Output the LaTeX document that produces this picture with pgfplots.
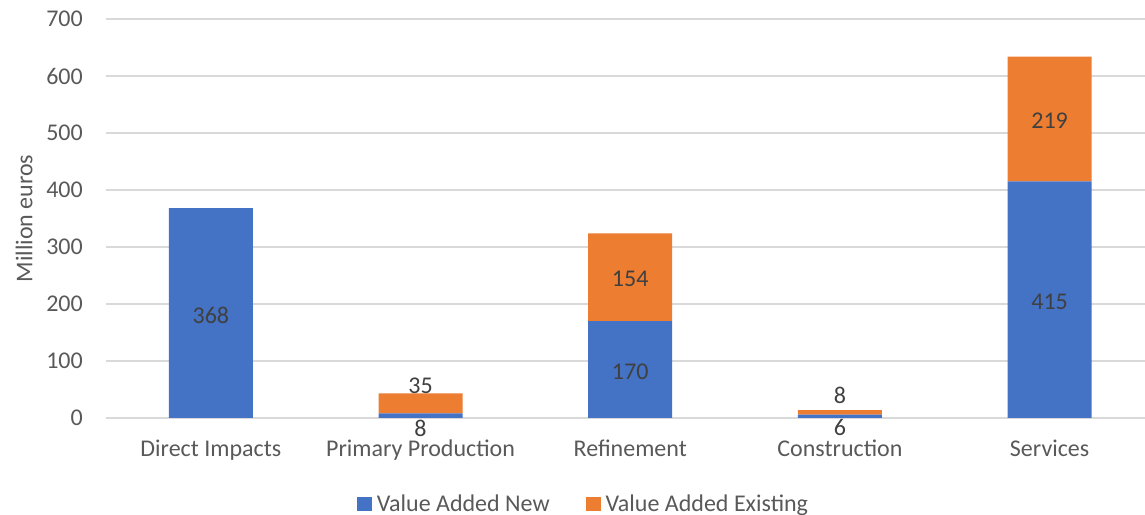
\documentclass[border=0pt]{standalone}
\usepackage{pgfplots}
\usepackage{pgfplotstable}
\pgfplotsset{compat=1.18}
\usepackage{fontspec}
\setmainfont{Carlito}

\definecolor{newblue}{HTML}{4472C4}
\definecolor{existorange}{HTML}{ED7D31}
\definecolor{gridgray}{HTML}{D9D9D9}
\definecolor{ticktext}{HTML}{595959}
\definecolor{labeltext}{HTML}{404040}
\newcommand\chartfont{\fontsize{24bp}{28bp}\selectfont}

% value added by sector, million euros
\pgfplotstableread{
x new existing
0 368 0
1 8   35
2 170 154
3 6   8
4 415 219
}\valuedata

% data label positions (y) and the values they print
\pgfplotstableread{
x ypos  val
0 180.5 368
1 -19   8
2 81.5  170
3 -16   6
4 204   415
}\newlabels
\pgfplotstableread{
x ypos  val
1 56    35
2 243.5 154
3 40    8
4 521   219
}\existinglabels

\pgfplotsset{
  chartframe/.style={
    at={(106bp,97bp)}, anchor=south west,
    scale only axis, width=1039bp, height=399bp,
    xmin=-0.5, xmax=4.4547, ymin=0, ymax=700,
  },
  valuelabel/.style={
    draw=none, nodes near coords, point meta=explicit symbolic,
    every node near coord/.append style={anchor=center, inner sep=0pt,
      font=\chartfont, text=labeltext},
  },
}

\begin{document}
\begin{tikzpicture}
\begin{axis}[
  chartframe,
  ybar stacked,
  bar width=84bp,
  axis line style={draw=none},
  major tick length=0pt,
  ymajorgrids,
  grid style={gridgray, line width=1.3bp},
  ytick={0,100,...,700},
  xtick={0,1,2,3,4},
  xticklabels={Direct Impacts, Primary Production, Refinement, Construction, Services},
  /pgf/number format/assume math mode=true,
  tick label style={font=\chartfont, text=ticktext},
  yticklabel style={anchor=east, inner sep=0pt, xshift=-23bp},
  xticklabel style={anchor=base, inner sep=0pt, yshift=-38.7bp},
  ylabel={Million euros},
  every axis y label/.style={at={(axis description cs:-0.0789,0.5)}, anchor=center, rotate=90, font=\chartfont, text=ticktext},
  legend columns=2,
  legend cell align=left,
  legend image code/.code={\fill[#1] (0bp,-7bp) rectangle (15bp,7bp);},
  legend style={
    at={(axis description cs:0.4586,-0.2148)}, anchor=center,
    draw=none, fill=none, inner sep=0pt, column sep=5bp,
    font=\chartfont, text=ticktext,
    nodes={inner sep=0pt, text height=15bp, text depth=0bp},
    /tikz/every even column/.append style={column sep=36bp},
  },
]
\addplot[fill=newblue, draw=none] table[x=x, y=new] {\valuedata};
\addlegendentry{Value Added New}
\addplot[fill=existorange, draw=none] table[x=x, y=existing] {\valuedata};
\addlegendentry{Value Added Existing}
\end{axis}

% data labels
\begin{axis}[chartframe, hide axis, clip=false]
\addplot[valuelabel] table[x=x, y=ypos, meta=val] {\newlabels};
\addplot[valuelabel] table[x=x, y=ypos, meta=val] {\existinglabels};
\end{axis}

\pgfresetboundingbox
\path[use as bounding box] (0,0) rectangle (1145bp,515bp);
\end{tikzpicture}
\end{document}
